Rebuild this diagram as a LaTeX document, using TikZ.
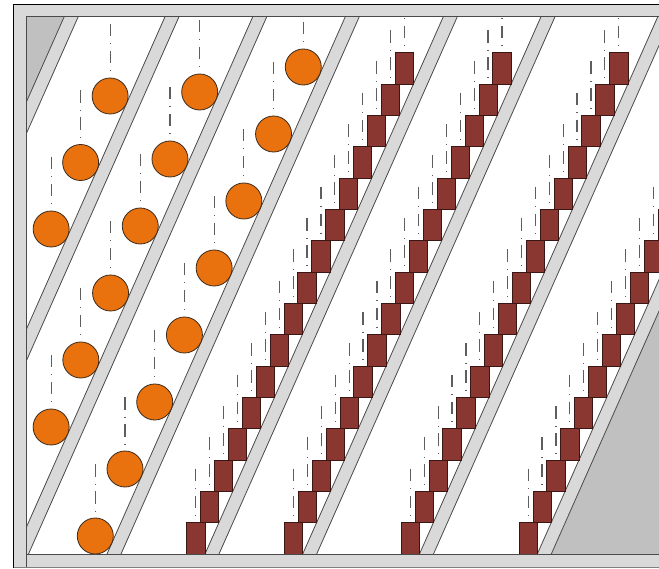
\documentclass[tikz,border=0pt]{standalone}
\definecolor{bandfill}{HTML}{D9D9D9}
\definecolor{bandline}{HTML}{4A4A4A}
\definecolor{graybg}{HTML}{C0C0C0}
\definecolor{ballfill}{HTML}{EA720E}
\definecolor{ballline}{HTML}{3A2A1C}
\definecolor{brickfill}{HTML}{8A3732}
\definecolor{brickline}{HTML}{3A1714}
\definecolor{dashcol}{HTML}{5E5E5E}
\tikzset{
  bandedge/.style={draw=bandline, line width=0.8pt},
  ball/.style={fill=ballfill, draw=ballline, line width=0.8pt},
  brick/.style={fill=brickfill, draw=brickline, line width=0.8pt},
  dashline/.style={draw=dashcol, line width=1.2pt, dash pattern=on 12.5pt off 7pt on 1pt off 6.5pt},
  barfill/.style={fill=bandfill},
  baredge/.style={draw=bandline, line width=0.8pt}
}
\begin{document}
\begin{tikzpicture}[x=1pt,y=-1pt]
\clip (0,0) rectangle (659,569);
\fill[white] (0,0) rectangle (659,569);
\begin{scope}
  \clip (26.7,16.7) rectangle (659,554);
  % gray regions
  \fill[graybg] (0,16.7) -- (64.2,16.7) -- (0,{16.7+64.2/0.4435}) -- cycle;
  \fill[graybg] (551.3,554) -- (789.6,16.7) -- (800,16.7) -- (800,554) -- cycle;
  % bands
  \foreach \B in {-174.1,-73.3,14.5,107,205,302.7,419.5,537.3} {
    \fill[bandfill] (\B,554) -- ({\B+238.3},16.7) -- ({\B+252.3},16.7) -- ({\B+14},554) -- cycle;
    \draw[bandedge] (\B,554) -- ({\B+238.3},16.7);
    \draw[bandedge] ({\B+14},554) -- ({\B+252.3},16.7);
  }
  % balls
  \foreach \B/\ys in {-73.3/{96,162.5,229}, 14.5/{92,159,226,293,360,427}, 107/{67,134,201,268,335,402,469,536}} {
    \foreach \cy in \ys {
      \pgfmathsetmacro\cx{\B+0.4435*(554-\cy)-19.7}
      \draw[dashline] (\cx,\cy-72) -- (\cx,\cy-25);
      \draw[ball] (\cx,\cy) circle[radius=18];
    }
  }
  % bricks
  \foreach \B/\N in {205/15, 302.7/15, 419.5/15, 537.3/10} {
    \foreach \n in {0,...,\N} {
      \pgfmathsetmacro\xr{\B+13.895*\n}
      \pgfmathsetmacro\yb{554-31.33*\n}
      \pgfmathsetmacro\yt{\yb-31.33}
      \pgfmathsetmacro\xc{\xr-9.15}
      \draw[dashline] (\xc,\yt-54) -- (\xc,\yt-6);
      \draw[brick] (\xr-18.3,\yt) rectangle (\xr,\yb);
    }
  }
\end{scope}
% frame
\fill[barfill] (13.3,4.3) rectangle (670,16.7);
\fill[barfill] (13.3,4.3) rectangle (26.7,567.7);
\fill[barfill] (26.7,554) rectangle (670,567);
\draw[baredge] (26.7,567.7) -- (26.7,16.7) -- (670,16.7);
\draw[baredge] (26.7,554) -- (670,554);
\draw[draw=gray, line width=0.6pt] (13.3,567.7) -- (26.7,567.7);
\draw[draw=gray, line width=0.6pt] (26.7,567) -- (670,567);
\draw[black, line width=1pt] (13.3,567.7) -- (13.3,4.3) -- (670,4.3);
\end{tikzpicture}
\end{document}
